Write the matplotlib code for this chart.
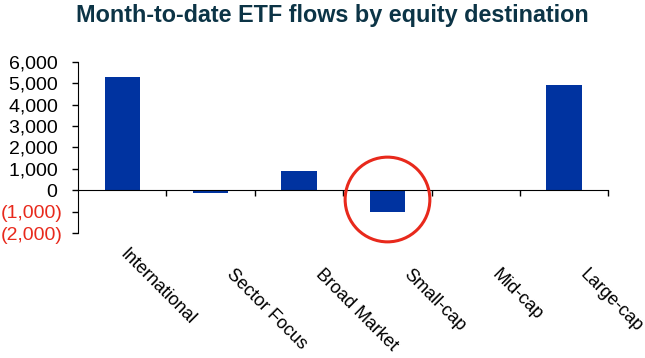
import matplotlib.pyplot as plt
from matplotlib.ticker import FuncFormatter

categories = ['International', 'Sector Focus', 'Broad Market', 'Small-cap', 'Mid-cap', 'Large-cap']
flows = [5300, -120, 900, -1000, 0, 4900]
yticks = [-2000, -1000, 0, 1000, 2000, 3000, 4000, 5000, 6000]

plt.rcParams['font.family'] = ['Liberation Sans', 'DejaVu Sans']

fig = plt.figure(figsize=(6.45, 3.58), dpi=100)
ax = fig.add_axes([0.121, 0.349, 0.822, 0.478])

x = range(len(categories))
ax.bar(x, flows, width=0.4, color='#0033a0', zorder=2)

ax.set_xlim(-0.5, len(categories) - 0.5)
ax.set_ylim(-2000, 6000)
ax.set_yticks(yticks)


def fmt(v, pos):
    # accounting style: negatives in brackets, positives padded for the bracket
    if v < 0:
        return '({:,.0f})'.format(-v)
    return '{:,.0f}\u2008'.format(v)


ax.yaxis.set_major_formatter(FuncFormatter(fmt))
ax.tick_params(axis='y', labelsize=14, length=4, width=1, pad=7)
for lbl, v in zip(ax.get_yticklabels(), yticks):
    if v < 0:
        lbl.set_color('#e8291c')

# bottom axis sits at zero, ticks between categories
ax.spines['top'].set_visible(False)
ax.spines['right'].set_visible(False)
ax.spines['bottom'].set_position(('data', 0))
ax.set_xticks([i + 0.5 for i in x])
ax.set_xticklabels([])
ax.tick_params(axis='x', length=4, width=1, direction='out')

for i, name in enumerate(categories):
    if i == 0:
        lx, ly = i + 0.07, -2580
    else:
        lx, ly = i + 0.28, -3520
    ax.text(lx, ly, name, rotation=-45, rotation_mode='anchor',
            ha='left', va='top', fontsize=13, clip_on=False)

# red circle around the small-cap bar
ax.plot(3, -400, 'o', ms=61, mfc='none', mec='#e8291c', mew=2.2, clip_on=False, zorder=3)

fig.suptitle('Month-to-date ETF flows by equity destination', x=0.515, y=0.99,
             fontsize=16.8, fontweight='bold', color='#0c3446')

fig.savefig('out.png', dpi=100)
